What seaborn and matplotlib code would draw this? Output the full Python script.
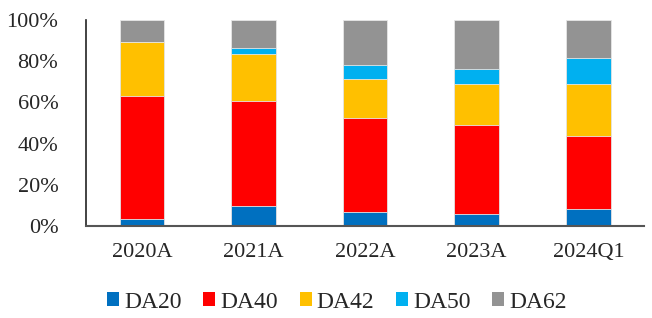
import numpy as np
import pandas as pd
import matplotlib
matplotlib.use("Agg")
import matplotlib.pyplot as plt
from matplotlib.patches import Patch
import seaborn as sns

# data (share, %)
years = ["2020A", "2021A", "2022A", "2023A", "2024Q1"]
series = ["DA20", "DA40", "DA42", "DA50", "DA62"]
da20 = [3.4, 9.7, 6.8, 5.7, 8.1]
da40 = [59.9, 51.0, 45.6, 43.5, 35.7]
da42 = [26.2, 22.8, 19.0, 19.9, 25.1]
da50 = [0.0, 2.9, 6.6, 7.0, 12.5]
da62 = [10.5, 13.6, 22.0, 23.9, 18.6]
colors = ["#0070C0", "#FF0000", "#FFC000", "#00B0F0", "#939393"]

sns.set_style("white")
plt.rcParams['font.family'] = ['Liberation Serif', 'DejaVu Serif']

df = pd.DataFrame({"year": years, "DA20": da20, "DA40": da40, "DA42": da42,
                   "DA50": da50, "DA62": da62})
cum = df[series].cumsum(axis=1)

fig = plt.figure(figsize=(6.52, 3.18), dpi=100)
ax = fig.add_axes([0.132, 0.289, 0.856, 0.648])

# draw cumulative tops from the highest series down so segments stack
for s, c in reversed(list(zip(series, colors))):
    sns.barplot(x=df["year"], y=cum[s], color=c, width=0.4, ax=ax,
                edgecolor="#e6e6e6", linewidth=0.6, saturation=1)

ax.set_ylim(0, 100)
ax.set_xlim(-0.5, 4.5)
ax.set_yticks(np.arange(0, 101, 20))
ax.set_yticklabels([f"{v}%" for v in range(0, 101, 20)])
ax.set_xlabel("")
ax.set_ylabel("")

ax.set_xticks(np.arange(len(years)))
ax.set_xticklabels(years)
ax.set_xticks(np.arange(-0.5, len(years)), minor=True)
ax.tick_params(axis="x", which="major", length=0, pad=12, labelsize=16)
ax.tick_params(axis="x", which="minor", direction="in", length=6, width=1.2, color="#404040")
ax.tick_params(axis="y", direction="in", length=7, width=1.2, pad=20, labelsize=16)

for side in ["top", "right"]:
    ax.spines[side].set_visible(False)
ax.spines["left"].set_color("#222222")
ax.spines["bottom"].set_color("#555555")
ax.spines["left"].set_linewidth(1.2)
ax.spines["bottom"].set_linewidth(1.5)

handles = [Patch(facecolor=c, edgecolor="none", label=s) for s, c in zip(series, colors)]
fig.legend(handles=handles, loc="center", bbox_to_anchor=(0.517, 0.05), ncol=5,
           frameon=False, fontsize=17, handlelength=0.5, handleheight=0.5,
           handletextpad=0.22, columnspacing=0.92)

fig.savefig("out.png", dpi=100)
